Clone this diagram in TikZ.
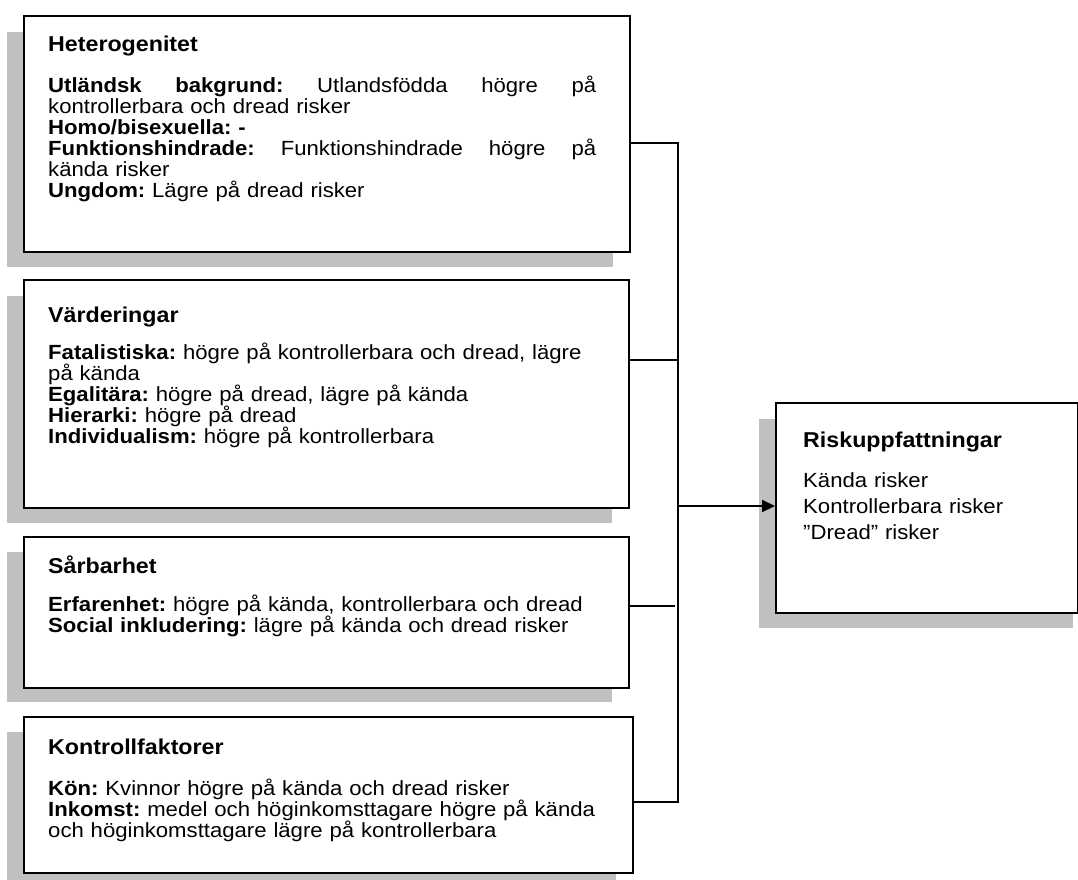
\documentclass[tikz,border=0pt]{standalone}
\usepackage{fontspec}
\setmainfont{Liberation Sans}[FakeStretch=1.08]
\usetikzlibrary{arrows.meta}
\definecolor{shadowgray}{RGB}{192,192,192}
\frenchspacing
\newcommand{\jline}[1]{\leavevmode\hbox to 548pt{#1}}
\tikzset{
  frame/.style={draw=black, line width=2pt, fill=white, anchor=north west, inner sep=0pt},
  shadowbox/.style={fill=shadowgray},
  conn/.style={draw=black, line width=2pt},
  ttl/.style={anchor=base west, inner sep=0pt, font=\fontsize{21.5}{21}\selectfont\bfseries},
  bodytext/.style={anchor=base west, inner sep=0pt, text width=600pt, align=left, font=\fontsize{20.5}{21}\selectfont\frenchspacing},
  rbodytext/.style={anchor=base west, inner sep=0pt, text width=270pt, align=left, font=\fontsize{20.5}{26}\selectfont},
}
\begin{document}
\begin{tikzpicture}[x=1pt, y=-1pt]
\useasboundingbox (0,0) rectangle (1078,879);
% shadows
\fill[shadowbox] (7,32) rectangle (613,267);
\fill[shadowbox] (7,296) rectangle (612,523);
\fill[shadowbox] (7,552) rectangle (612,702);
\fill[shadowbox] (7,732) rectangle (616,880);
\fill[shadowbox] (759,419) rectangle (1073,628);
% boxes
\node[frame, minimum width=606pt, minimum height=236pt] (b1) at (23,15) {};
\node[frame, minimum width=605pt, minimum height=228pt] (b2) at (23,279) {};
\node[frame, minimum width=605pt, minimum height=151pt] (b3) at (23,536) {};
\node[frame, minimum width=609pt, minimum height=156pt] (b4) at (23,716) {};
\node[frame, minimum width=302pt, minimum height=210pt] (b5) at (775,402) {};
% texts
\node[ttl] (t1) at (48,51) {Heterogenitet};
\node[bodytext] (d1) at (48,92) {\jline{\textbf{Utländsk}\hfill\textbf{bakgrund:}\hfill Utlandsfödda\hfill högre\hfill på}\\
kontrollerbara och dread risker\\
\textbf{Homo/bisexuella: -}\\
\jline{\textbf{Funktionshindrade:}\hfill Funktionshindrade\hfill högre\hfill på}\\
kända risker\\
\textbf{Ungdom:} Lägre på dread risker};

\node[ttl] (t2) at (48,322) {Värderingar};
\node[bodytext] (d2) at (48,359) {\textbf{Fatalistiska:} högre på kontrollerbara och dread, lägre\\
på kända\\
\textbf{Egalitära:} högre på dread, lägre på kända\\
\textbf{Hierarki:} högre på dread\\
\textbf{Individualism:} högre på kontrollerbara};

\node[ttl] (t3) at (48,573) {Sårbarhet};
\node[bodytext] (d3) at (48,611) {\textbf{Erfarenhet:} högre på kända, kontrollerbara och dread\\
\textbf{Social inkludering:} lägre på kända och dread risker};

\node[ttl] (t4) at (48,754) {Kontrollfaktorer};
\node[bodytext] (d4) at (48,795) {\textbf{Kön:} Kvinnor högre på kända och dread risker\\
\textbf{Inkomst:} medel och höginkomsttagare högre på kända\\
och höginkomsttagare lägre på kontrollerbara};

\node[ttl] (t5) at (803,447) {Riskuppfattningar};
\node[rbodytext] (d5) at (803,487) {Kända risker\\
Kontrollerbara risker\\
”Dread” risker};
% connectors
\coordinate (j1) at (678,143);
\coordinate (j2) at (678,360);
\coordinate (j3) at (675,606);
\coordinate (j4) at (678,802);
\coordinate (ja) at (678,506);
\draw[conn] (j1 -| b1.east) -- (j1) -- (j4) -- (j4 -| b4.east);
\draw[conn] (j2 -| b2.east) -- (j2);
\draw[conn] (j3 -| b3.east) -- (j3);
\draw[conn, -{Triangle[length=13pt, width=12pt]}] (ja) -- (ja -| b5.west);
\end{tikzpicture}
\end{document}
